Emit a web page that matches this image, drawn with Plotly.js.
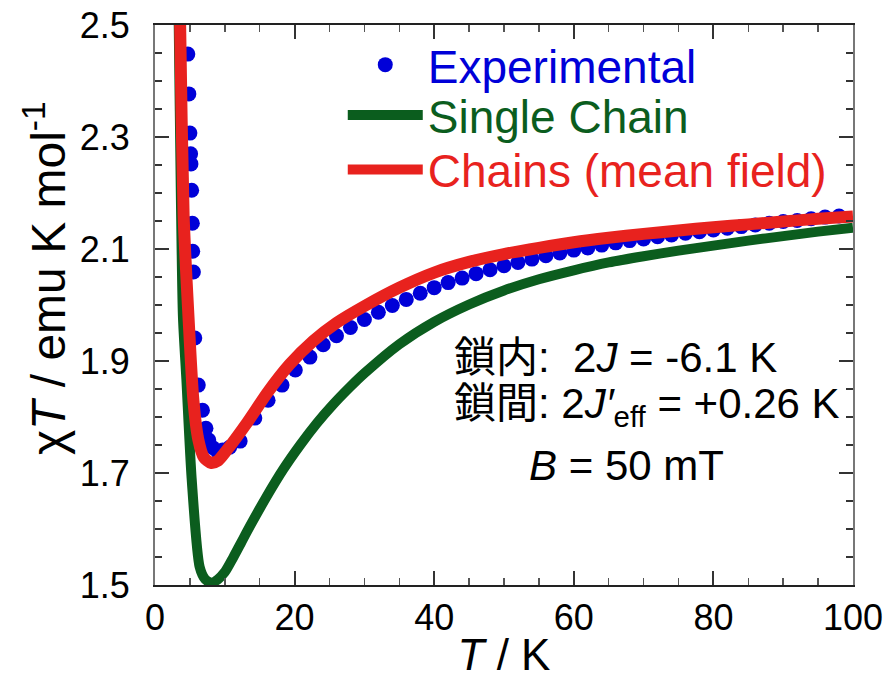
<!DOCTYPE html>
<html>
<head>
<meta charset="utf-8">
<script src="https://cdn.plot.ly/plotly-3.0.1.min.js"></script>
<style>html,body{margin:0;padding:0;background:#fff;}#chart{width:891px;height:679px;}</style>
</head>
<body>
<div id="chart"></div>
<script>
// Experimental data (T / K, chiT / emu K mol^-1)
const expT = [4.7, 4.85, 5.0, 5.1, 5.15, 5.25, 5.35, 5.4, 5.5, 5.7, 6.2, 6.8, 7.3, 7.7, 8.3, 9.0, 9.7, 10.7, 12.2, 14.3, 16.2, 18.2, 20.1, 22.2, 24.1, 26.0,
  28, 30, 32, 34, 36, 38, 40, 42, 44, 46, 48, 50, 52, 54, 56, 58, 60, 62, 64, 66, 68, 70, 72, 74, 76, 78, 80, 82, 84, 86, 88, 90, 92, 94, 96, 98];
const expChiT = [2.448, 2.377, 2.307, 2.270, 2.252, 2.205, 2.146, 2.096, 2.059, 1.941, 1.857, 1.812, 1.780, 1.759, 1.745, 1.738, 1.741, 1.746, 1.757, 1.798, 1.830, 1.857, 1.884, 1.907, 1.929, 1.945,
  1.960, 1.974, 1.987, 1.999, 2.010, 2.021, 2.031, 2.040, 2.048, 2.056, 2.063, 2.070, 2.076, 2.082, 2.088, 2.093, 2.098, 2.102, 2.107, 2.111, 2.115, 2.118, 2.122, 2.125, 2.128, 2.131, 2.134, 2.137, 2.140, 2.143, 2.146, 2.149, 2.151, 2.154, 2.157, 2.159];

// Single chain model
const singleT = [3.25, 3.4, 3.7, 4.0, 4.5, 5.25, 6.4, 7.2, 8.1, 9.0, 10.0, 11.2, 12.4, 13.6, 16.0, 18.4, 20.8, 23.2, 25.5, 27.9, 30, 35, 40, 45, 50, 55, 60, 65, 70, 75, 80, 85, 90, 95, 100];
const singleChiT = [2.62, 2.5, 2.2, 1.98, 1.866, 1.69, 1.532, 1.510, 1.504, 1.510, 1.523, 1.549, 1.577, 1.605, 1.658, 1.707, 1.750, 1.789, 1.822, 1.853, 1.878, 1.930, 1.970, 2.001, 2.026, 2.046, 2.062, 2.076, 2.087, 2.097, 2.106, 2.115, 2.123, 2.131, 2.138];

// Chains with mean-field interchain coupling
const mfT = [3.5, 3.6, 4.1, 4.75, 5.5, 6.2, 7.0, 8.0, 9.0, 10.3, 13.2, 16.2, 19.3, 22.7, 26, 30, 35, 40, 45, 50, 55, 60, 65, 70, 75, 80, 85, 90, 95, 100];
const mfChiT = [2.58, 2.5, 2.16, 1.99, 1.83, 1.76, 1.728, 1.718, 1.722, 1.741, 1.790, 1.845, 1.894, 1.936, 1.968, 1.998, 2.031, 2.058, 2.077, 2.091, 2.102, 2.112, 2.120, 2.127, 2.133, 2.139, 2.144, 2.149, 2.154, 2.158];

const seriesNames = ['Experimental', 'Single Chain', 'Chains (mean field)'];
const xTitle = '<i>T</i> / K';
const yTitle = 'χ<i>T</i> / emu K mol<sup>-1</sup>';
const noteLines = ['鎖内:\u00a0\u00a02<i>J</i> = -6.1 K', '鎖間: 2<i>J\u2032</i><sub>eff</sub> = +0.26 K', '<i>B</i> = 50 mT'];

const BLUE = '#0000d8', GREEN = '#0b5d1e', RED = '#e8221e';
const FONT = 'Liberation Sans, Arial, Noto Sans CJK JP, sans-serif';

const traces = [
  {x: expT, y: expChiT, mode: 'markers', name: seriesNames[0], legend: 'legend',
   marker: {size: 15, color: BLUE}},
  {x: singleT, y: singleChiT, mode: 'lines', name: seriesNames[1], legend: 'legend2',
   line: {color: GREEN, width: 10, shape: 'spline', smoothing: 0.7}},
  {x: mfT, y: mfChiT, mode: 'lines', name: seriesNames[2], legend: 'legend3',
   line: {color: RED, width: 12, shape: 'spline', smoothing: 0.7}}
];

function leg(y, color) {
  return {x: 0.269, xanchor: 'left', y: y, yanchor: 'middle', bgcolor: 'rgba(0,0,0,0)',
    font: {family: FONT, size: 46, color: color}, itemwidth: 75};
}

const axisCommon = {
  showgrid: false, zeroline: false, showline: true, linewidth: 2, mirror: 'allticks',
  ticks: 'inside', ticklen: 14, tickwidth: 2, tickcolor: '#333',
  tickfont: {family: FONT, size: 36, color: '#000'}
};

const layout = {
  width: 891, height: 679,
  margin: {l: 155, r: 38, t: 25, b: 94},
  paper_bgcolor: '#fff', plot_bgcolor: '#fff',
  font: {family: FONT, color: '#000'},
  showlegend: true,
  legend: leg(0.929, BLUE),
  legend2: leg(0.839, GREEN),
  legend3: leg(0.742, RED),
  xaxis: Object.assign({}, axisCommon, {
    range: [0, 100], tick0: 0, dtick: 20, linecolor: '#222',
    minor: {dtick: 5, ticklen: 7, ticks: 'inside', tickcolor: '#555', tickwidth: 1.5},
    ticklabelstandoff: 0,
    title: {text: xTitle, font: {family: FONT, size: 44}, standoff: 10}
  }),
  yaxis: Object.assign({}, axisCommon, {
    range: [1.5, 2.5], tick0: 1.5, dtick: 0.2, tickformat: '.1f', linecolor: '#777',
    minor: {dtick: 0.05, ticklen: 7, ticks: 'inside', tickcolor: '#333', tickwidth: 1.5},
    ticklabelstandoff: 16
  }),
  annotations: [
    {xref: 'paper', yref: 'paper', x: -0.1576, y: 0.548, xanchor: 'center', yanchor: 'middle', showarrow: false,
     textangle: -90, text: yTitle, font: {family: FONT, size: 48, color: '#000'}},
    {xref: 'paper', yref: 'paper', x: 0.4255, y: 0.407, xanchor: 'left', yanchor: 'middle', showarrow: false,
     text: noteLines[0], font: {family: FONT, size: 42, color: '#000'}},
    {xref: 'paper', yref: 'paper', x: 0.4255, y: 0.318, xanchor: 'left', yanchor: 'middle', showarrow: false,
     text: noteLines[1], font: {family: FONT, size: 42, color: '#000'}},
    {xref: 'paper', yref: 'paper', x: 0.533, y: 0.214, xanchor: 'left', yanchor: 'middle', showarrow: false,
     text: noteLines[2], font: {family: FONT, size: 42, color: '#000'}}
  ]
};

Plotly.newPlot('chart', traces, layout, {displayModeBar: false, staticPlot: true});
</script>
</body>
</html>
